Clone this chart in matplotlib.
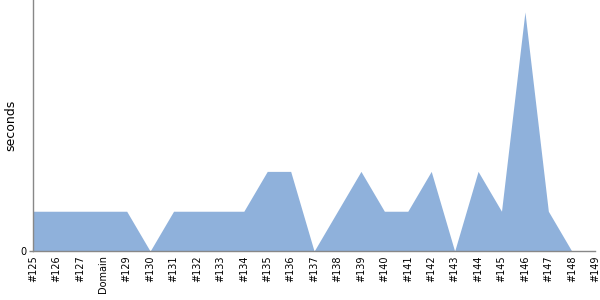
import matplotlib
matplotlib.use("Agg")
import matplotlib.pyplot as plt
import numpy as np

labels = ["#125", "#126", "#127", "Domain", "#129", "#130", "#131", "#132", "#133",
          "#134", "#135", "#136", "#137", "#138", "#139", "#140", "#141", "#142",
          "#143", "#144", "#145", "#146", "#147", "#148", "#149"]
seconds = [1, 1, 1, 1, 1, 0, 1, 1, 1, 1, 2, 2, 0, 1, 2, 1, 1, 2, 0, 2, 1, 6, 1, 0, 0]

fig = plt.figure(figsize=(6, 3), dpi=100)
ax = fig.add_axes([0.055, 0.163, 0.937, 0.837])
x = np.arange(len(labels))
ax.fill_between(x, seconds, 0, color="#8fb1db", linewidth=0)
ax.set_xlim(0, len(labels) - 1)
ax.set_ylim(0, 6.3)
ax.set_xticks(x)
ax.set_xticklabels(labels, rotation=90, fontsize=7)
ax.set_yticks([0])
ax.set_yticklabels(["0"], fontsize=7)
ax.tick_params(axis="x", length=0, pad=3)
ax.tick_params(axis="y", length=3, width=1, color="#888888", pad=2)
ax.set_ylabel("seconds", fontsize=9)
ax.yaxis.set_label_coords(-0.028, 0.5)
for s in ["top", "right"]:
    ax.spines[s].set_visible(False)
for s in ["left", "bottom"]:
    ax.spines[s].set_color("#888888")
    ax.spines[s].set_linewidth(1)
fig.savefig("out.png", dpi=100)
